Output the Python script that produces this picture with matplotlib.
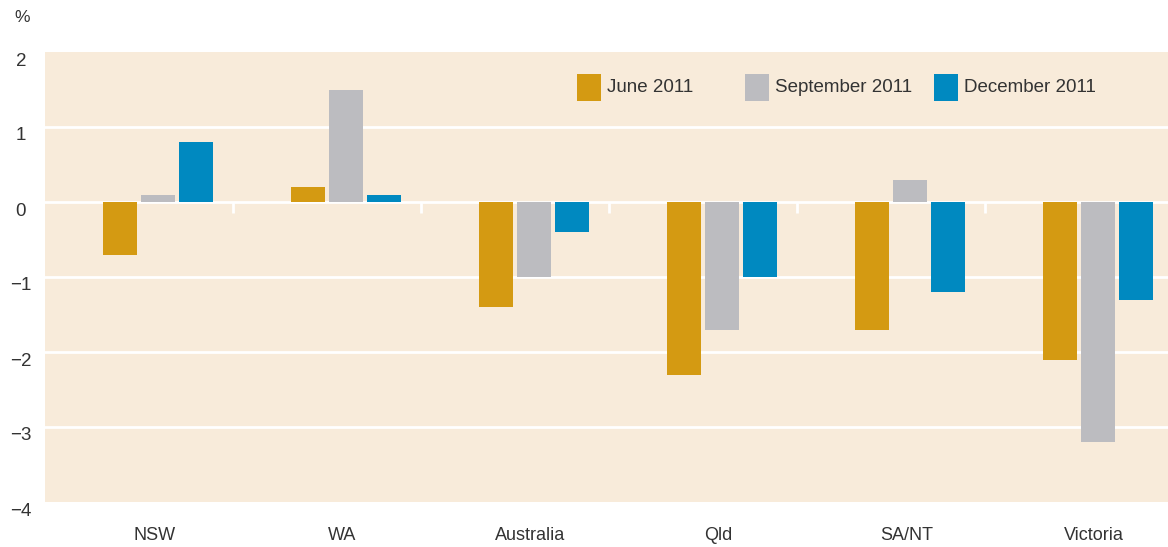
import matplotlib.pyplot as plt
from matplotlib.patches import Rectangle
import matplotlib.transforms as mtransforms
import numpy as np

regions = ['NSW', 'WA', 'Australia', 'Qld', 'SA/NT', 'Victoria']
series = ['June 2011', 'September 2011', 'December 2011']
june = [-0.7, 0.2, -1.4, -2.3, -1.7, -2.1]
september = [0.1, 1.5, -1.0, -1.7, 0.3, -3.2]
december = [0.8, 0.1, -0.4, -1.0, -1.2, -1.3]
yticks = [2, 1, 0, -1, -2, -3, -4]

colors = ['#d49a12', '#bcbcc0', '#0089c0']
bg = '#f8ebda'
txt = '#333333'

plt.rcParams['font.family'] = ['Liberation Sans', 'DejaVu Sans']

W, H = 1168, 547
fig = plt.figure(figsize=(W / 100, H / 100), dpi=100)
ax = fig.add_axes([45 / W, (H - 502) / H, (1168 - 45) / W, 450 / H])
ax.set_facecolor(bg)

x = np.arange(len(regions))
width = 0.181
offset = 0.202
for k, vals in enumerate([june, september, december]):
    ax.bar(x + (k - 1) * offset, vals, width, color=colors[k], zorder=3)

ax.set_xlim(-0.601, 5.372)
ax.set_ylim(-4, 2)
for yv in yticks[1:-1]:
    ax.axhline(yv, color='white', lw=2, zorder=1)

# small white ticks on zero line between groups
for b in x[:-1] + 0.4:
    ax.plot([b, b], [0, -0.14], color='white', lw=2, zorder=1,
            solid_capstyle='butt')

for s in ax.spines.values():
    s.set_visible(False)
ax.set_yticks([])
ax.set_xticks([])

# y labels sit a little below their gridlines
ylab_tr = mtransforms.blended_transform_factory(fig.transFigure, ax.transData)
ylab_tr = ylab_tr + mtransforms.ScaledTranslation(0, -0.09, fig.dpi_scale_trans)
for v in yticks:
    ax.text(21 / W, v, str(v).replace('-', '\u2212'), transform=ylab_tr,
            ha='center', va='center', fontsize=13.5, color=txt)

xlab_tr = mtransforms.blended_transform_factory(ax.transData, fig.transFigure)
for i, r in enumerate(regions):
    ax.text(x[i] - 0.02, 1 - 535 / H, r, transform=xlab_tr,
            ha='center', va='center', fontsize=13, color=txt)

fig.text(22 / W, 1 - 17 / H, '%', fontsize=12.5, color=txt,
         ha='center', va='center')

# legend
leg_x = [577, 745, 934]
for c, lx, name in zip(colors, leg_x, series):
    fig.patches.append(Rectangle((lx / W, 1 - 101 / H), 24 / W, 27 / H,
                                 transform=fig.transFigure, facecolor=c,
                                 edgecolor='none'))
    fig.text((lx + 30) / W, 1 - 87 / H, name, fontsize=13.5, color=txt,
             ha='left', va='center')

fig.savefig('out.png', dpi=100, facecolor='white')
